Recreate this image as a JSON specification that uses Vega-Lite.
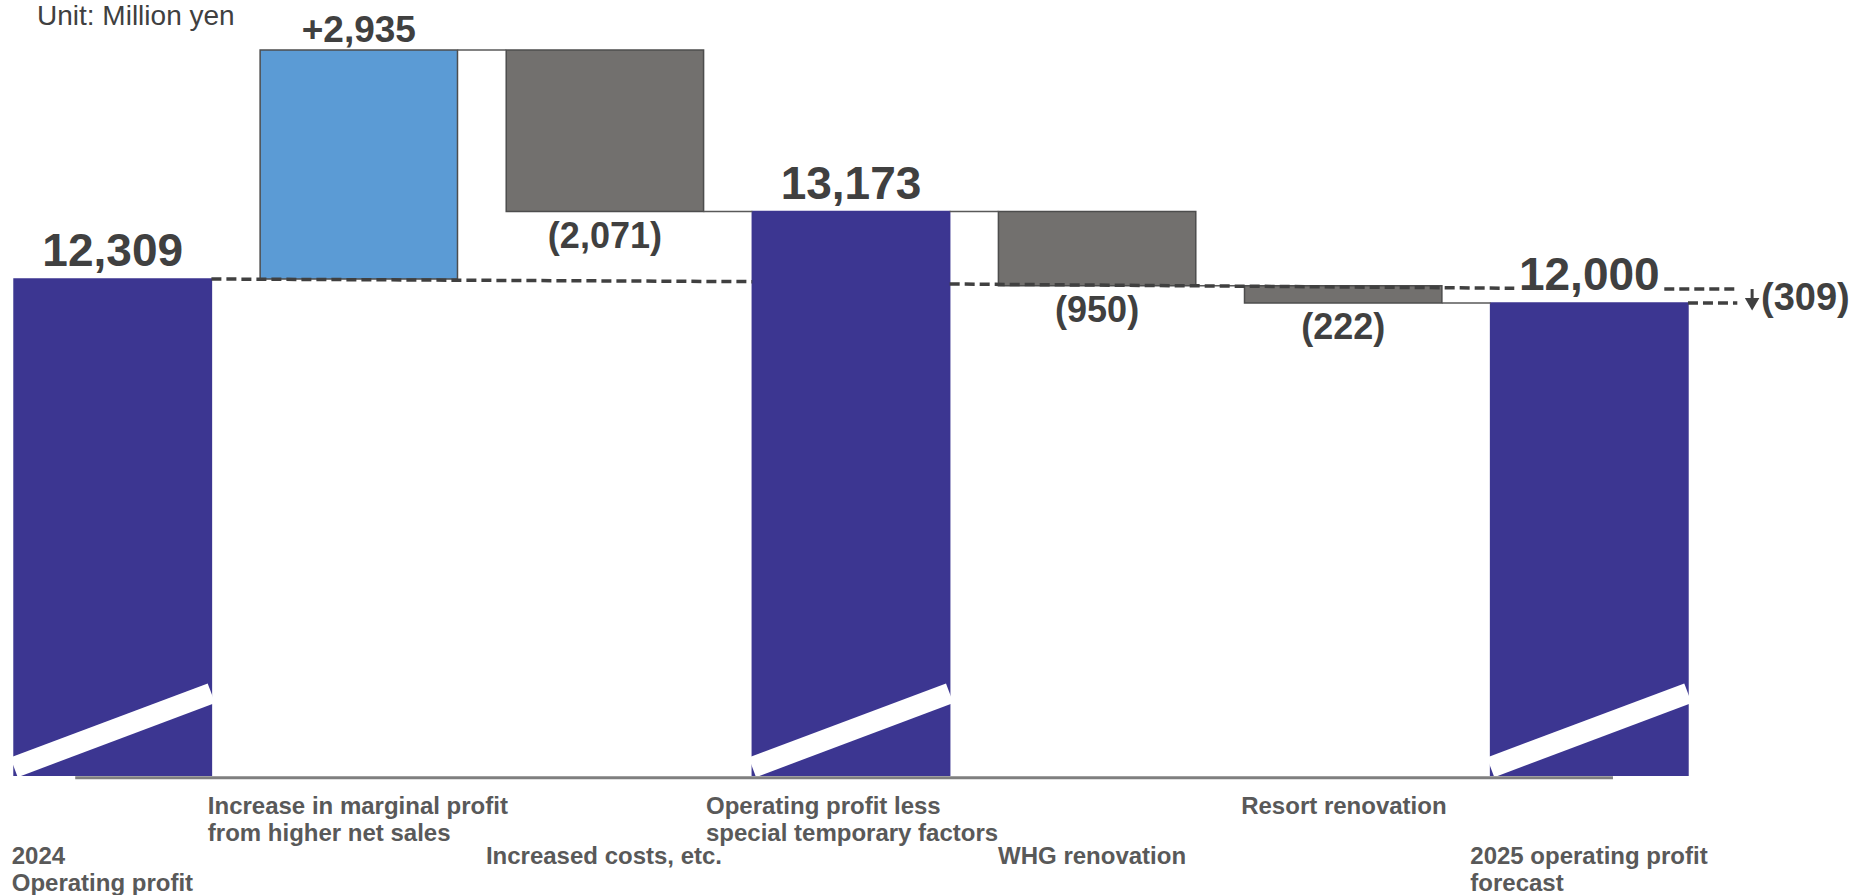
{
  "$schema": "https://vega.github.io/schema/vega-lite/v6.json",
  "width": 1702,
  "height": 746,
  "autosize": {"type": "none"},
  "padding": {"left": 0, "top": 30, "right": 155, "bottom": 119},
  "background": "white",
  "title": {"text": "Unit: Million yen", "anchor": "start", "frame": "group", "orient": "top", "offset": 0, "dx": 37, "dy": 41, "baseline": "alphabetic", "font": "Liberation Sans", "fontSize": 28, "fontWeight": "normal", "color": "#404040"},
  "config": {"view": {"stroke": null}},
  "datasets": {
    "bars": [
      {"cat": "2024|Operating profit", "start": 0, "end": 12309, "kind": "total", "label": "12,309"},
      {"cat": "Increase in marginal profit|from higher net sales", "start": 12309, "end": 15244, "kind": "up", "label": "+2,935"},
      {"cat": "Increased costs, etc.", "start": 15244, "end": 13173, "kind": "down", "label": "(2,071)"},
      {"cat": "Operating profit less|special temporary factors", "start": 0, "end": 13173, "kind": "total", "label": "13,173"},
      {"cat": "WHG renovation", "start": 13173, "end": 12223, "kind": "down", "label": "(950)"},
      {"cat": "Resort renovation", "start": 12223, "end": 12001, "kind": "down", "label": "(222)"},
      {"cat": "2025 operating profit|forecast", "start": 0, "end": 12000, "kind": "total", "label": "12,000"}
    ],
    "links": [
      {"from": "Increase in marginal profit|from higher net sales", "to": "Increased costs, etc.", "level": 15244},
      {"from": "Increased costs, etc.", "to": "Operating profit less|special temporary factors", "level": 13173},
      {"from": "Operating profit less|special temporary factors", "to": "WHG renovation", "level": 13173},
      {"from": "WHG renovation", "to": "Resort renovation", "level": 12223},
      {"from": "Resort renovation", "to": "2025 operating profit|forecast", "level": 12001}
    ]
  },
  "layer": [
    {
      "data": {"name": "bars"},
      "mark": {"type": "bar", "clip": true, "strokeWidth": 1.5},
      "encoding": {
        "x": {
          "field": "cat", "type": "nominal",
          "scale": {
            "domain": ["2024|Operating profit", "Increase in marginal profit|from higher net sales", "Increased costs, etc.", "Operating profit less|special temporary factors", "WHG renovation", "Resort renovation", "2025 operating profit|forecast"],
            "paddingInner": 0.198, "paddingOuter": 0.057
          },
          "axis": {
            "title": null, "domain": false, "ticks": false, "tickSize": 0, "grid": false,
            "labelAngle": 0, "labelAlign": "left", "labelBaseline": "alphabetic",
            "labelFont": "Liberation Sans", "labelFontSize": 24, "labelFontWeight": "bold", "labelColor": "#595959",
            "labelLineHeight": 27, "labelLimit": 0, "labelOverlap": false, "labelFlush": false, "labelBound": false,
            "labelExpr": "split(datum.label, '|')",
            "labelPadding": {"condition": {"test": "datum.value == 'Increase in marginal profit|from higher net sales' || datum.value == 'Operating profit less|special temporary factors' || datum.value == 'Resort renovation'", "value": 37}, "value": 87},
            "labelOffset": {"condition": [
              {"test": "datum.value == '2024|Operating profit'", "value": -101},
              {"test": "datum.value == 'Increase in marginal profit|from higher net sales'", "value": -151},
              {"test": "datum.value == 'Increased costs, etc.'", "value": -119},
              {"test": "datum.value == 'Operating profit less|special temporary factors'", "value": -145},
              {"test": "datum.value == 'WHG renovation'", "value": -99},
              {"test": "datum.value == 'Resort renovation'", "value": -102}
            ], "value": -119}
          }
        },
        "y": {"field": "start", "type": "quantitative", "scale": {"domain": [5939, 15500], "zero": false, "nice": false}, "axis": null},
        "y2": {"field": "end"},
        "fill": {"field": "kind", "type": "nominal", "scale": {"domain": ["total", "up", "down"], "range": ["#3C3691", "#5B9BD5", "#72706E"]}, "legend": null},
        "stroke": {"field": "kind", "type": "nominal", "scale": {"domain": ["total", "up", "down"], "range": ["#3C3691", "#4D4D4D", "#4D4D4D"]}, "legend": null}
      }
    },
    {
      "data": {"name": "bars"},
      "transform": [{"filter": "datum.kind == 'total'"}],
      "mark": {"type": "rule", "color": "white", "strokeWidth": 21, "strokeCap": "butt"},
      "encoding": {
        "x": {"field": "cat", "type": "nominal", "bandPosition": 0, "title": null},
        "x2": {"field": "cat", "bandPosition": 1},
        "y": {"datum": 6050},
        "y2": {"datum": 7000}
      }
    },
    {
      "data": {"name": "links"},
      "mark": {"type": "rule", "color": "#595959", "strokeWidth": 1.5},
      "encoding": {
        "x": {"field": "from", "type": "nominal", "bandPosition": 1, "title": null},
        "x2": {"field": "to", "bandPosition": 0},
        "y": {"field": "level", "type": "quantitative"}
      }
    },
    {
      "data": {"values": [{"from": "2024|Operating profit", "to": "Operating profit less|special temporary factors", "a": 12309, "b": 12275}]},
      "mark": {"type": "rule", "color": "#404040", "strokeWidth": 3.5, "strokeDash": [10, 5]},
      "encoding": {
        "x": {"field": "from", "type": "nominal", "bandPosition": 1, "title": null},
        "x2": {"field": "to", "bandPosition": 0},
        "y": {"field": "a", "type": "quantitative"},
        "y2": {"field": "b"}
      }
    },
    {
      "data": {"values": [{"from": "Operating profit less|special temporary factors", "to": "2025 operating profit|forecast", "a": 12245, "b": 12190}]},
      "mark": {"type": "rule", "color": "#404040", "strokeWidth": 3.5, "strokeDash": [10, 5]},
      "encoding": {
        "x": {"field": "from", "type": "nominal", "bandPosition": 1, "title": null},
        "x2": {"field": "to", "bandPosition": 0.12},
        "y": {"field": "a", "type": "quantitative"},
        "y2": {"field": "b"}
      }
    },
    {
      "data": {"values": [{"from": "2025 operating profit|forecast", "a": 12180}]},
      "mark": {"type": "rule", "color": "#404040", "strokeWidth": 3.5, "strokeDash": [10, 5]},
      "encoding": {
        "x": {"field": "from", "type": "nominal", "bandPosition": 0.88, "title": null},
        "x2": {"field": "from", "bandPosition": 1.25},
        "y": {"field": "a", "type": "quantitative"}
      }
    },
    {
      "data": {"values": [{"from": "2025 operating profit|forecast", "a": 12000}]},
      "mark": {"type": "rule", "color": "#404040", "strokeWidth": 3.5, "strokeDash": [10, 5]},
      "encoding": {
        "x": {"field": "from", "type": "nominal", "bandPosition": 1, "title": null},
        "x2": {"field": "from", "bandPosition": 1.25},
        "y": {"field": "a", "type": "quantitative"}
      }
    },
    {
      "data": {"values": [{"from": "2025 operating profit|forecast", "a": 12180, "b": 12040}]},
      "mark": {"type": "rule", "color": "#404040", "strokeWidth": 3},
      "encoding": {
        "x": {"field": "from", "type": "nominal", "bandPosition": 1.325, "title": null},
        "y": {"field": "a", "type": "quantitative"},
        "y2": {"field": "b"}
      }
    },
    {
      "data": {"values": [{"from": "2025 operating profit|forecast", "a": 11985}]},
      "mark": {"type": "point", "shape": "triangle-down", "filled": true, "color": "#404040", "size": 210, "opacity": 1},
      "encoding": {
        "x": {"field": "from", "type": "nominal", "bandPosition": 1.325, "title": null},
        "y": {"field": "a", "type": "quantitative"}
      }
    },
    {
      "data": {"values": [{"from": "2025 operating profit|forecast", "a": 12001, "label": "(309)"}]},
      "mark": {"type": "text", "align": "left", "baseline": "alphabetic", "dy": 7, "font": "Liberation Sans", "fontSize": 38, "fontWeight": "bold", "color": "#404040"},
      "encoding": {
        "x": {"field": "from", "type": "nominal", "bandPosition": 1.37, "title": null},
        "y": {"field": "a", "type": "quantitative"},
        "text": {"field": "label"}
      }
    },
    {
      "data": {"values": [{"from": "2024|Operating profit", "to": "2025 operating profit|forecast"}]},
      "mark": {"type": "rule", "color": "#7F7F7F", "strokeWidth": 3},
      "encoding": {
        "x": {"field": "from", "type": "nominal", "bandPosition": 0.31, "title": null},
        "x2": {"field": "to", "bandPosition": 0.62},
        "y": {"datum": 5915}
      }
    },
    {
      "data": {"name": "bars"},
      "transform": [{"filter": "datum.kind == 'total'"}],
      "mark": {"type": "text", "align": "center", "baseline": "alphabetic", "dy": -13, "font": "Liberation Sans", "fontSize": 46, "fontWeight": "bold", "color": "#404040"},
      "encoding": {
        "x": {"field": "cat", "type": "nominal", "title": null},
        "y": {"field": "end", "type": "quantitative"},
        "text": {"field": "label"}
      }
    },
    {
      "data": {"name": "bars"},
      "transform": [{"filter": "datum.kind == 'up'"}],
      "mark": {"type": "text", "align": "center", "baseline": "alphabetic", "dy": -8, "font": "Liberation Sans", "fontSize": 37, "fontWeight": "bold", "color": "#404040"},
      "encoding": {
        "x": {"field": "cat", "type": "nominal", "title": null},
        "y": {"field": "end", "type": "quantitative"},
        "text": {"field": "label"}
      }
    },
    {
      "data": {"name": "bars"},
      "transform": [{"filter": "datum.kind == 'down'"}],
      "mark": {"type": "text", "align": "center", "baseline": "alphabetic", "dy": 36, "font": "Liberation Sans", "fontSize": 36, "fontWeight": "bold", "color": "#404040"},
      "encoding": {
        "x": {"field": "cat", "type": "nominal", "title": null},
        "y": {"field": "end", "type": "quantitative"},
        "text": {"field": "label"}
      }
    }
  ]
}
